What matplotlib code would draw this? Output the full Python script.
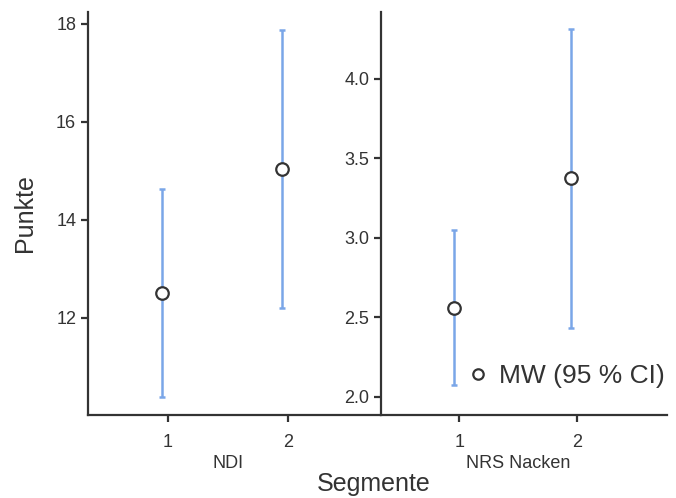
import matplotlib
matplotlib.use("Agg")
import matplotlib.pyplot as plt
from matplotlib.lines import Line2D

plt.rcParams['font.family'] = ['Liberation Sans', 'DejaVu Sans']

segments = [1, 2]
ndi_mean = [12.50, 15.04]
ndi_lo = [10.39, 12.20]
ndi_hi = [14.63, 17.88]

nrs_mean = [2.56, 3.375]
nrs_lo = [2.075, 2.435]
nrs_hi = [3.048, 4.31]

panel_labels = ["NDI", "NRS Nacken"]
ndi_yticks = [12, 14, 16, 18]
nrs_yticks = [2.0, 2.5, 3.0, 3.5, 4.0]

TXT = '#333333'
BLUE = '#7AA6E8'

W, H = 676, 498
fig = plt.figure(figsize=(W / 100, H / 100), dpi=100)

axL = fig.add_axes([88 / W, (H - 415) / H, 292 / W, 403 / H])
axR = fig.add_axes([381 / W, (H - 415) / H, 286 / W, 403 / H])

def draw(ax, mean, lo, hi, ylim, yticks, fmt, label):
    xs = [s - 0.05 for s in segments]
    yerr = [[m - l for m, l in zip(mean, lo)], [h - m for m, h in zip(mean, hi)]]
    ax.errorbar(xs, mean, yerr=yerr, fmt='none', ecolor=BLUE, elinewidth=1.8,
                capsize=2.5, capthick=1.8, zorder=2)
    ax.plot(xs, mean, 'o', ms=9, mfc='white', mec=TXT, mew=1.6, zorder=3)
    ax.set_xlim(0.335, 2.76)
    ax.set_ylim(*ylim)
    ax.set_xticks(segments)
    ax.set_xticklabels([str(s) for s in segments])
    ax.set_yticks(yticks)
    ax.set_yticklabels([fmt.format(t) for t in yticks])
    for s in ['top', 'right']:
        ax.spines[s].set_visible(False)
    for s in ['left', 'bottom']:
        ax.spines[s].set_color(TXT)
        ax.spines[s].set_linewidth(1.6)
    ax.tick_params(axis='both', colors=TXT, labelcolor=TXT, labelsize=13,
                   length=5, width=1.6, direction='out')
    ax.tick_params(axis='x', pad=9)
    ax.patch.set_alpha(0)
    ax.text(1.5, -0.12, label, transform=ax.get_xaxis_transform(),
            ha='center', va='center', fontsize=13, color=TXT)

draw(axL, ndi_mean, ndi_lo, ndi_hi, (10.02, 18.24), ndi_yticks, '{:d}', panel_labels[0])
draw(axR, nrs_mean, nrs_lo, nrs_hi, (1.885, 4.42), nrs_yticks, '{:.1f}', panel_labels[1])

axL.set_ylabel('Punkte', fontsize=18, color=TXT, labelpad=14)
fig.text(374 / W, (H - 484) / H, 'Segmente', ha='center', va='center',
         fontsize=18, color=TXT)

handle = Line2D([], [], ls='none', marker='o', ms=7.5, mfc='white', mec=TXT, mew=1.6)
leg = axR.legend([handle], ['MW (95 % CI)'], loc='lower right',
                 bbox_to_anchor=(1.03, 0.04), frameon=False, fontsize=19,
                 handletextpad=0.3, handlelength=1.0, borderaxespad=0)
for t in leg.get_texts():
    t.set_color(TXT)

fig.savefig('out.png', dpi=100)
